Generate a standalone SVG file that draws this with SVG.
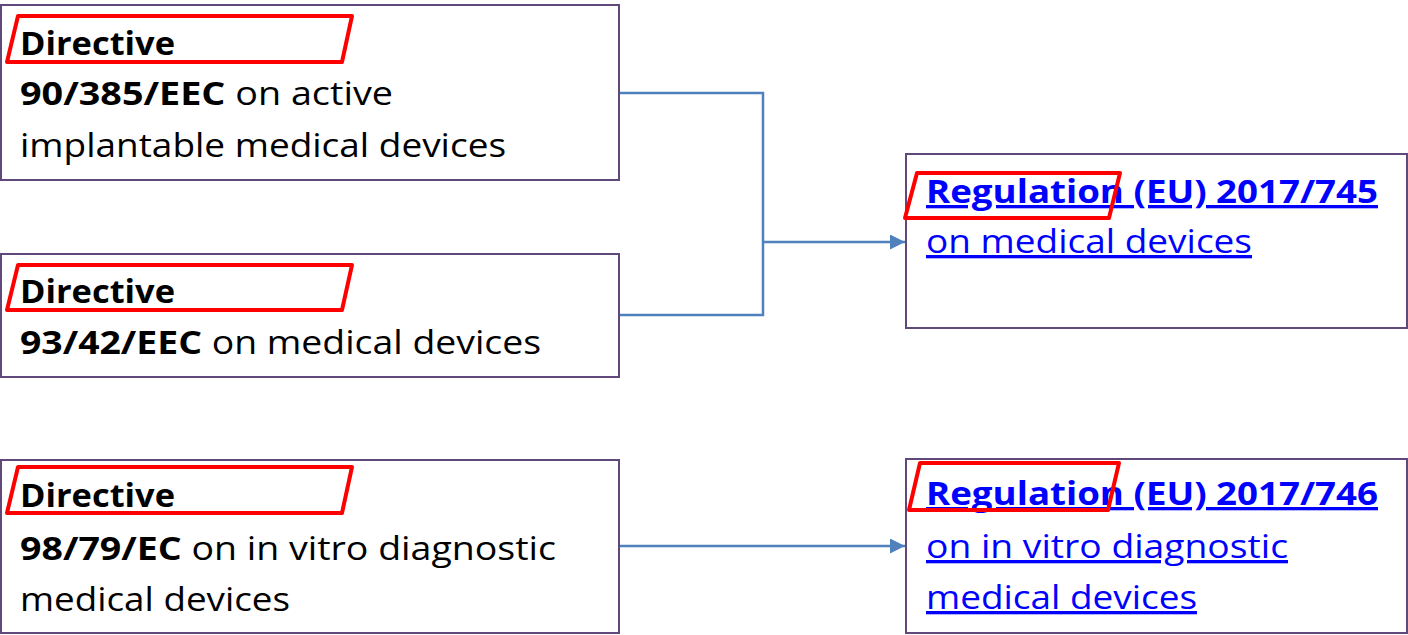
<svg xmlns="http://www.w3.org/2000/svg" width="1408" height="635" viewBox="0 0 1408 635">
<defs>
<marker id="arr" viewBox="0 0 10 10" refX="10" refY="5" markerWidth="6" markerHeight="6" markerUnits="strokeWidth" orient="auto"><path d="M0,0 L10,5 L0,10 z" fill="#4F81BD"/></marker>
</defs>
<style>
.box{fill:#fff;stroke:#60497A;stroke-width:2}
.t{font-family:"Open Sans","Noto Sans",sans-serif;font-size:33px;fill:#000}
.b{font-weight:bold}
.lk{fill:#0000FF;text-decoration:underline}
.hl{fill:none;stroke:#FF0000;stroke-width:4;stroke-linejoin:round}
.cn{fill:none;stroke:#4F81BD;stroke-width:2.5}
</style>
<rect width="1408" height="635" fill="#fff"/>
<g id="connectors">
<path class="cn" d="M619,93 H763 V315 H619"/>
<path class="cn" d="M763,242 H905" marker-end="url(#arr)"/>
<path class="cn" d="M619,546 H905" marker-end="url(#arr)"/>
</g>
<g id="d90385">
<rect class="box" x="1" y="5" width="618" height="175"/>
<text class="t b" x="20" y="55" textLength="155" lengthAdjust="spacingAndGlyphs">Directive</text>
<text class="t" x="20" y="105" textLength="373" lengthAdjust="spacingAndGlyphs"><tspan class="b">90/385/EEC</tspan> on active</text>
<text class="t" x="20" y="157" textLength="486" lengthAdjust="spacingAndGlyphs">implantable medical devices</text>
<polygon class="hl" points="18,16 352,16 342,62 7,62"/>
</g>
<g id="d9342">
<rect class="box" x="1" y="254" width="618" height="123"/>
<text class="t b" x="20" y="303" textLength="155" lengthAdjust="spacingAndGlyphs">Directive</text>
<text class="t" x="20" y="354" textLength="521" lengthAdjust="spacingAndGlyphs"><tspan class="b">93/42/EEC</tspan> on medical devices</text>
<polygon class="hl" points="18,265 352,265 342,310 7,310"/>
</g>
<g id="d9879">
<rect class="box" x="1" y="460" width="618" height="173"/>
<text class="t b" x="20" y="507" textLength="155" lengthAdjust="spacingAndGlyphs">Directive</text>
<text class="t" x="20" y="560" textLength="536" lengthAdjust="spacingAndGlyphs"><tspan class="b">98/79/EC</tspan> on in vitro diagnostic</text>
<text class="t" x="20" y="611" textLength="270" lengthAdjust="spacingAndGlyphs">medical devices</text>
<polygon class="hl" points="18,467 352,467 342,513 7,513"/>
</g>
<g id="r745">
<rect class="box" x="906" y="154" width="501" height="174"/>
<text class="t lk b" x="926" y="203" textLength="452" lengthAdjust="spacingAndGlyphs">Regulation (EU) 2017/745</text>
<text class="t lk" x="926" y="253" textLength="326" lengthAdjust="spacingAndGlyphs">on medical devices</text>
<polygon class="hl" points="917,173 1120,173 1109,218 905,218"/>
</g>
<g id="r746">
<rect class="box" x="906" y="459" width="501" height="174"/>
<text class="t lk b" x="926" y="505" textLength="452" lengthAdjust="spacingAndGlyphs">Regulation (EU) 2017/746</text>
<text class="t lk" x="926" y="558" textLength="362" lengthAdjust="spacingAndGlyphs">on in vitro diagnostic</text>
<text class="t lk" x="926" y="609" textLength="271" lengthAdjust="spacingAndGlyphs">medical devices</text>
<polygon class="hl" points="920,463 1119,463 1108,510 909,510"/>
</g>
</svg>
